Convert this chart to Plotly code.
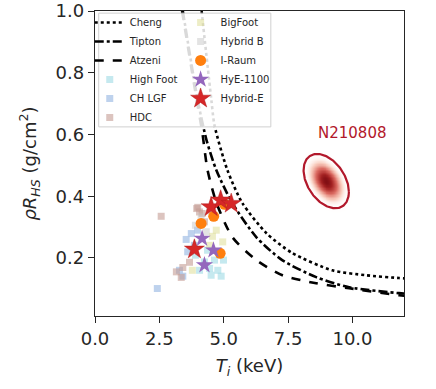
import numpy as np
import plotly.graph_objects as go

# ---------------- data ----------------
# model ignition curves (Ti in keV, rhoR in g/cm^2)
cheng_T = [4.14, 4.52, 4.64, 5.14, 5.72, 6.66, 7.66, 9.21, 10.53, 11.81, 12.2]
cheng_R = [1.00, 0.711, 0.63, 0.485, 0.378, 0.280, 0.216, 0.160, 0.144, 0.135, 0.133]
tipton_T = [3.41, 3.99, 4.33, 4.71, 5.33, 6.27, 7.27, 8.59, 9.87, 11.81, 12.2]
tipton_R = [1.00, 0.711, 0.582, 0.485, 0.378, 0.267, 0.193, 0.138, 0.105, 0.086, 0.084]
atzeni_T = [3.38, 3.95, 4.17, 4.37, 4.72, 5.34, 6.27, 7.28, 8.59, 9.87, 11.81, 12.2]
atzeni_R = [1.00, 0.711, 0.605, 0.485, 0.378, 0.267, 0.193, 0.144, 0.118, 0.102, 0.079, 0.076]

# experimental campaigns
highfoot_T = [4.06, 4.45, 4.77, 4.90, 4.25, 4.64, 4.51, 3.90, 4.37, 4.99]
highfoot_R = [0.160, 0.166, 0.160, 0.141, 0.187, 0.193, 0.144, 0.209, 0.225, 0.193]
chlgf_T = [2.42, 3.54, 3.74, 3.60, 3.28, 3.41, 3.86, 3.98]
chlgf_R = [0.101, 0.260, 0.279, 0.220, 0.160, 0.141, 0.241, 0.290]
hdc_T = [2.57, 3.99, 4.16, 4.25, 3.16, 3.35, 3.41, 3.67, 3.95, 4.06]
hdc_R = [0.335, 0.364, 0.344, 0.317, 0.155, 0.137, 0.169, 0.186, 0.360, 0.349]
bigfoot_T = [4.71, 4.96, 4.45, 3.78, 4.56]
bigfoot_R = [0.290, 0.252, 0.241, 0.160, 0.270]
hybridb_T = [4.32, 4.12, 3.90, 4.45]
hybridb_R = [0.285, 0.333, 0.306, 0.355]
iraum_T = [4.12, 4.61, 5.03, 4.86]
iraum_R = [0.312, 0.335, 0.374, 0.215]
hye_T = [4.16, 4.60, 4.25]
hye_R = [0.263, 0.225, 0.177]
hybride_T = [3.86, 4.51, 4.88, 5.29]
hybride_R = [0.228, 0.365, 0.387, 0.376]

# N210808 measurement (mean, sigmas, correlation)
n21_label = "N210808"
n21_T, n21_R = 8.98, 0.449
n21_sT, n21_sR, n21_corr = 0.44, 0.044, -0.40

x_ticks = [0.0, 2.5, 5.0, 7.5, 10.0]
y_ticks = [0.2, 0.4, 0.6, 0.8, 1.0]

# ---------------- figure ----------------
FONT = "DejaVu Sans"
INK = "#262626"
fig = go.Figure()

# N210808 density
cov = np.array([[n21_sT**2, n21_corr*n21_sT*n21_sR],
                [n21_corr*n21_sT*n21_sR, n21_sR**2]])
icov = np.linalg.inv(cov)
gT = np.linspace(n21_T - 3*n21_sT, n21_T + 3*n21_sT, 140)
gR = np.linspace(n21_R - 3*n21_sR, n21_R + 3*n21_sR, 140)
TT, RR = np.meshgrid(gT, gR)
dT, dR = TT - n21_T, RR - n21_R
m2 = icov[0, 0]*dT**2 + 2*icov[0, 1]*dT*dR + icov[1, 1]*dR**2
Z = np.exp(-0.5*m2)
fig.add_trace(go.Heatmap(
    x=gT, y=gR, z=Z, zmin=0, zmax=1, zsmooth="best", showscale=False,
    hoverinfo="skip", showlegend=False,
    colorscale=[[0.0, "rgba(255,255,255,0)"], [0.2, "rgba(255,240,235,0.25)"],
                [0.4, "rgba(246,185,165,0.7)"], [0.65, "rgba(215,90,80,0.9)"],
                [0.88, "rgba(165,35,35,1)"], [1.0, "rgba(130,15,20,1)"]]))
L = np.linalg.cholesky(cov)
t = np.linspace(0, 2*np.pi, 200)
ell = np.array([[n21_T], [n21_R]]) + 2.0 * L @ np.vstack([np.cos(t), np.sin(t)])
fig.add_trace(go.Scatter(x=ell[0], y=ell[1], mode="lines", showlegend=False,
                         hoverinfo="skip", line=dict(color="#b2182b", width=2.2)))

# curves
lw = 2.6
fig.add_trace(go.Scatter(x=cheng_T, y=cheng_R, name="Cheng", mode="lines", legend="legend",
                         legendrank=1, line=dict(color="black", width=lw, dash="dot",
                                                 shape="spline", smoothing=0.7)))
fig.add_trace(go.Scatter(x=tipton_T, y=tipton_R, name="Tipton", mode="lines", legend="legend",
                         legendrank=2, line=dict(color="black", width=lw, dash="dashdot",
                                                 shape="spline", smoothing=0.7)))
fig.add_trace(go.Scatter(x=atzeni_T, y=atzeni_R, name="Atzeni", mode="lines", legend="legend",
                         legendrank=3, line=dict(color="black", width=lw, dash="dash",
                                                 shape="spline", smoothing=0.7)))

sq = 7
def squares(x, y, name, color, op, leg, rank):
    fig.add_trace(go.Scatter(x=x, y=y, name=name, mode="markers", legend=leg, legendrank=rank,
                             marker=dict(symbol="square", size=sq, color=color, opacity=op,
                                         line=dict(width=0))))

squares(highfoot_T, highfoot_R, "High Foot", "#9edae5", 0.6, "legend", 4)
squares(chlgf_T, chlgf_R, "CH LGF", "#aec7e8", 0.8, "legend", 5)
squares(hdc_T, hdc_R, "HDC", "#c49c94", 0.6, "legend", 6)
squares(bigfoot_T, bigfoot_R, "BigFoot", "#dbdb8d", 0.5, "legend2", 7)
squares(hybridb_T, hybridb_R, "Hybrid B", "#c7c7c7", 0.5, "legend2", 8)

fig.add_trace(go.Scatter(x=iraum_T, y=iraum_R, name="I-Raum", mode="markers", legend="legend2",
                         legendrank=9, marker=dict(symbol="circle", size=11, color="#ff7f0e",
                                                    line=dict(width=0))))
fig.add_trace(go.Scatter(x=hye_T, y=hye_R, name="HyE-1100", mode="markers", legend="legend2",
                         legendrank=10, marker=dict(symbol="star", size=13, color="#9467bd",
                                                     line=dict(width=0))))
fig.add_trace(go.Scatter(x=hybride_T, y=hybride_R, name="Hybrid-E", mode="markers", legend="legend2",
                         legendrank=11, marker=dict(symbol="star", size=15, color="#d62728",
                                                     line=dict(width=0.5, color="#b01c1c"))))

fig.add_annotation(x=n21_T + 1.0, y=n21_R + 0.155, text=n21_label, showarrow=False,
                   font=dict(family=FONT, size=15, color="#b2182b"))

# legend background box (two columns)
fig.add_shape(type="rect", xref="paper", yref="paper", x0=0.012, x1=0.569, y0=0.62, y1=0.993,
              fillcolor="rgba(255,255,255,0.85)", line=dict(color="#d0d0d0", width=1), layer="above")

axis_common = dict(showline=True, mirror=True, linecolor=INK, linewidth=1.3, ticks="outside",
                   ticklen=6, tickwidth=1.3, tickcolor=INK, showgrid=False, zeroline=False,
                   automargin=False, tickfont=dict(family=FONT, size=18, color=INK))

fig.update_layout(
    width=436, height=389,
    margin=dict(l=95, r=32, t=11, b=73, autoexpand=False),
    paper_bgcolor="white", plot_bgcolor="white",
    font=dict(family=FONT, color=INK),
    xaxis=dict(range=[0, 12], tickvals=x_ticks, ticktext=[f"{v:.1f}" for v in x_ticks],
               title=dict(text="<i>T<sub>i</sub></i> (keV)", font=dict(family=FONT, size=18, color=INK),
                          standoff=11), **axis_common),
    yaxis=dict(range=[0.012, 1.0], tickvals=y_ticks, ticktext=[f"{v:.1f}" for v in y_ticks],
               title=dict(text="<i>ρR<sub>HS</sub></i> (g/cm<sup>2</sup>)",
                          font=dict(family=FONT, size=18, color=INK), standoff=14), **axis_common),
    legend=dict(x=-0.017, y=1.01, xanchor="left", yanchor="top", bgcolor="rgba(0,0,0,0)",
                font=dict(family=FONT, size=10, color=INK), tracegroupgap=0),
    legend2=dict(x=0.277, y=1.01, xanchor="left", yanchor="top", bgcolor="rgba(0,0,0,0)",
                 font=dict(family=FONT, size=10, color=INK), tracegroupgap=0),
)

fig.write_html("out.html", config={"displayModeBar": False},
               post_script="document.body.style.margin='0';")
